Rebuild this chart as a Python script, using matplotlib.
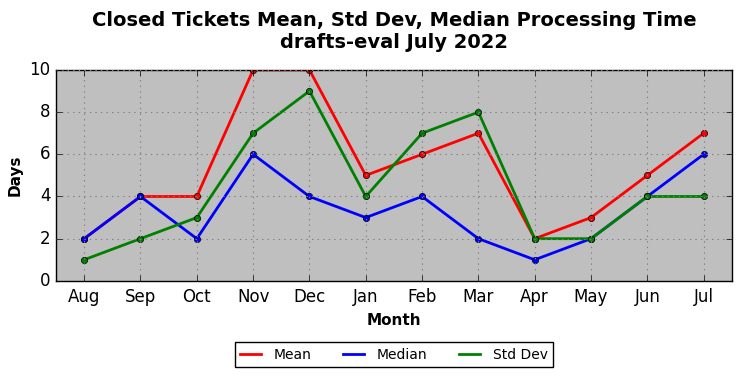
import matplotlib
matplotlib.use("Agg")
import matplotlib.pyplot as plt

months = ["Aug", "Sep", "Oct", "Nov", "Dec", "Jan", "Feb", "Mar", "Apr", "May", "Jun", "Jul"]
mean_days = [2, 4, 4, 10, 10, 5, 6, 7, 2, 3, 5, 7]
median_days = [2, 4, 2, 6, 4, 3, 4, 2, 1, 2, 4, 6]
std_days = [1, 2, 3, 7, 9, 4, 7, 8, 2, 2, 4, 4]

plt.style.use("classic")
fig = plt.figure(figsize=(7.41, 3.78), dpi=100)
ax = fig.add_axes([0.0756, 0.257, 0.912, 0.558])
ax.set_facecolor("#bfbfbf")

x = list(range(len(months)))
ax.plot(x, mean_days, color="red", linewidth=2, marker="o", markersize=4.5, label="Mean")
ax.plot(x, median_days, color="blue", linewidth=2, marker="o", markersize=4.5, label="Median")
ax.plot(x, std_days, color="green", linewidth=2, marker="o", markersize=4.5, label="Std Dev")

ax.set_xlim(-0.5, len(months) - 0.5)
ax.set_ylim(0, 10)
ax.set_xticks(x)
ax.set_xticklabels(months)
ax.set_yticks([0, 2, 4, 6, 8, 10])
ax.grid(True, color="gray", linestyle=":", linewidth=0.8)
ax.tick_params(labelsize=12)
ax.tick_params(axis="x", pad=5.5)

ax.set_xlabel("Month", fontsize=11, fontweight="bold")
ax.set_ylabel("Days", fontsize=11, fontweight="bold")
ax.set_title("Closed Tickets Mean, Std Dev, Median Processing Time\ndrafts-eval July 2022",
             fontsize=14, fontweight="bold", pad=16)

ax.legend(loc="upper center", bbox_to_anchor=(0.5, -0.29), ncol=3, fontsize=10,
          frameon=True, fancybox=False, borderaxespad=0, handlelength=1.5,
          handletextpad=0.9, columnspacing=2.3, numpoints=1, markerscale=0)

fig.savefig("out.png", dpi=100, facecolor="white")
